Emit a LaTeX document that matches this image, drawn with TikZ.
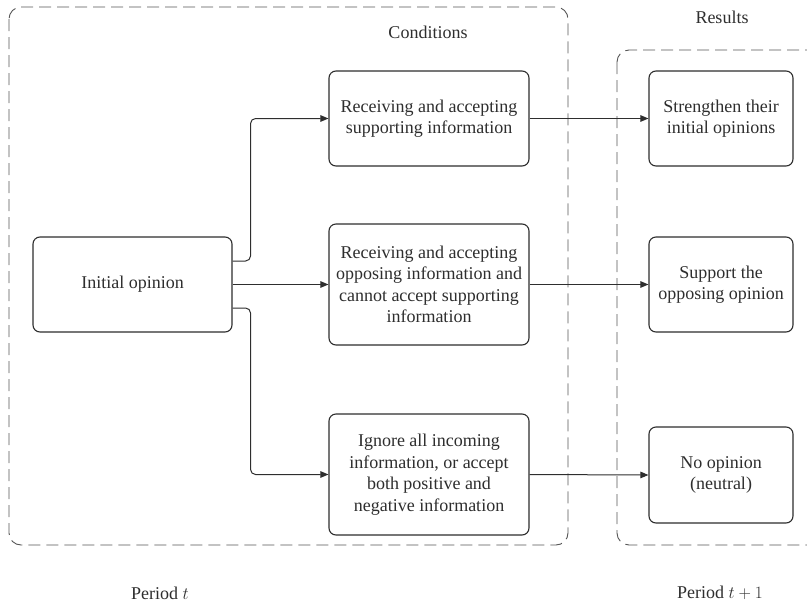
\documentclass[tikz,border=0pt]{standalone}
\usepackage{fontspec}
\setmainfont{Liberation Serif}
\usepackage{tikz}
\usetikzlibrary{calc,arrows.meta}
\definecolor{figgray}{HTML}{2E2E2E}
\definecolor{figdash}{HTML}{555555}
\tikzset{
  figfont/.style={font=\fontsize{18}{21.5}\selectfont, text=figgray},
  figbox/.style={draw=figgray, line width=1.1pt, rounded corners=7pt, align=center, fill=white, inner sep=0pt},
  figregion/.style={draw=figdash, line width=0.9pt, dash pattern=on 12pt off 6pt, rounded corners=12pt},
  figarrow/.style={-{Triangle[length=8pt,width=6.5pt]}, draw=figgray, line width=1pt, rounded corners=5pt},
}
\begin{document}
\begin{tikzpicture}[figfont, x=1pt, y=-1pt]
  \useasboundingbox (0,0) rectangle (807,606);

  % Dashed regions
  \draw[figregion] (9,7) rectangle (568,545);
  \draw[figregion] (617,50) rectangle (830,545);

  % Region titles
  \node (condtitle) at (428,32) {Conditions};
  \node (restitle) at (722,17) {Results};
  \node (periodt) at (160,593) {Period $t$};
  \node (periodtt) at (720,593) {Period $t+1$};

  % Initial node
  \node[figbox, minimum width=199pt, minimum height=95pt] (init) at (132.5,284.5) {Initial opinion};

  % Condition nodes
  \node[figbox, minimum width=200pt, minimum height=95pt] (cond1) at (429,118.5)
    {Receiving and accepting\\supporting information};
  \node[figbox, minimum width=200pt, minimum height=121pt] (cond2) at (429,284.5)
    {Receiving and accepting\\opposing information and\\cannot accept supporting\\information};
  \node[figbox, minimum width=200pt, minimum height=121pt] (cond3) at (429,474.5)
    {Ignore all incoming\\information, or accept\\both positive and\\negative information};

  % Result nodes
  \node[figbox, minimum width=144pt, minimum height=95pt] (res1) at (721,118.5)
    {Strengthen their\\initial opinions};
  \node[figbox, minimum width=144pt, minimum height=95pt] (res2) at (721,284.5)
    {Support the\\opposing opinion};
  \node[figbox, minimum width=144pt, minimum height=96pt] (res3) at (721,475)
    {No opinion\\(neutral)};

  % Arrows from the initial opinion
  \draw[figarrow] ([yshift=23.5pt]init.east) -- ++(18pt,0) |- (cond1.west);
  \draw[figarrow] (init.east) -- (cond2.west);
  \draw[figarrow] ([yshift=-23.5pt]init.east) -- ++(18pt,0) |- (cond3.west);

  % Arrows to the results
  \draw[figarrow] (cond1.east) -- (res1.west);
  \draw[figarrow] (cond2.east) -- (res2.west);
  \draw[figarrow] (cond3.east) -- (res3.west);
\end{tikzpicture}
\end{document}
